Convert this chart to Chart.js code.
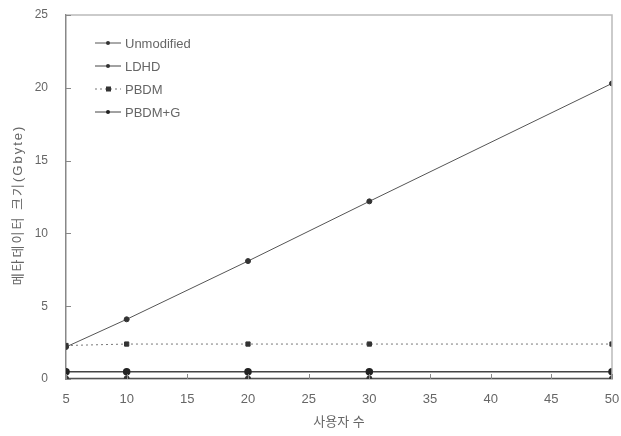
<!DOCTYPE html>
<html>
<head>
<meta charset="utf-8">
<script src="https://cdn.jsdelivr.net/npm/chart.js@4"></script>
<style>
  html, body { margin: 0; padding: 0; background: #fff; }
  #wrap { width: 621px; height: 436px; }
</style>
</head>
<body>
<div id="wrap"><canvas id="myChart" width="621" height="436"></canvas></div>
<script>
// donnees
const users = [5, 10, 20, 30, 50];
const unmodified = [2.2, 4.1, 8.1, 12.2, 20.3];
const ldhd = [0.05, 0.05, 0.05, 0.05, 0.05];
const pbdm = [2.3, 2.4, 2.4, 2.4, 2.4];
const pbdmG = [0.5, 0.5, 0.5, 0.5, 0.5];
const seriesNames = ['Unmodified', 'LDHD', 'PBDM', 'PBDM+G'];
const yTitle = '메타데이터 크기(Gbyte)';
const xTitle = '사용자 수';

const fontFam = "'Liberation Sans', 'Noto Sans CJK KR', sans-serif";
const txtColor = '#666';

function toPoints(vals) {
  return users.map((u, i) => ({ x: u, y: vals[i] }));
}

// cadre, petits traits interieurs, titre Y et legende
const boxPlugin = {
  id: 'boxPlugin',
  afterDraw(chart) {
    const { ctx, chartArea } = chart;
    const xs = chart.scales.x;
    const ys = chart.scales.y;
    ctx.save();
    ctx.strokeStyle = '#bbb';
    ctx.lineWidth = 1.5;
    ctx.beginPath();
    ctx.moveTo(chartArea.left, chartArea.top);
    ctx.lineTo(chartArea.right, chartArea.top);
    ctx.lineTo(chartArea.right, chartArea.bottom);
    ctx.stroke();

    // traits de graduation vers l'interieur
    ctx.strokeStyle = '#888';
    ctx.lineWidth = 1;
    xs.ticks.forEach(t => {
      const px = Math.round(xs.getPixelForValue(t.value)) + 0.5;
      ctx.beginPath();
      ctx.moveTo(px, chartArea.bottom);
      ctx.lineTo(px, chartArea.bottom - 5);
      ctx.stroke();
    });
    ys.ticks.forEach(t => {
      const py = Math.round(ys.getPixelForValue(t.value)) + 0.5;
      ctx.beginPath();
      ctx.moveTo(chartArea.left, py);
      ctx.lineTo(chartArea.left + 5, py);
      ctx.stroke();
    });

    // titre Y
    ctx.save();
    ctx.translate(18, (chartArea.top + chartArea.bottom) / 2 + 8);
    ctx.rotate(-Math.PI / 2);
    ctx.font = '13px ' + fontFam;
    ctx.letterSpacing = '2px';
    ctx.fillStyle = txtColor;
    ctx.textAlign = 'center';
    ctx.textBaseline = 'middle';
    ctx.fillText(yTitle, 0, 0);
    ctx.restore();

    // legende
    const x0 = chartArea.left + 29;
    let y = chartArea.top + 28;
    ctx.font = '13px ' + fontFam;
    ctx.textBaseline = 'middle';
    chart.data.datasets.forEach(ds => {
      ctx.strokeStyle = ds.borderColor;
      ctx.lineWidth = 1;
      ctx.setLineDash(ds.borderDash || []);
      ctx.beginPath();
      ctx.moveTo(x0, y);
      ctx.lineTo(x0 + 26, y);
      ctx.stroke();
      ctx.setLineDash([]);
      ctx.fillStyle = ds.pointBackgroundColor;
      if (ds.pointStyle === 'rect') {
        ctx.fillRect(x0 + 11, y - 2.5, 5, 5);
      } else {
        ctx.beginPath();
        ctx.arc(x0 + 13, y, 2, 0, Math.PI * 2);
        ctx.fill();
      }
      ctx.fillStyle = txtColor;
      ctx.fillText(ds.label, x0 + 30, y + 1);
      y += 23;
    });
    ctx.restore();
  }
};

const ctx = document.getElementById('myChart');

const myChart = new Chart(ctx, {
  type: 'line',
  data: {
    datasets: [
      {
        label: seriesNames[0],
        data: toPoints(unmodified),
        borderColor: '#555',
        pointBackgroundColor: '#333',
        pointBorderColor: '#333',
        pointStyle: 'circle',
        pointRadius: 2.5,
        borderWidth: 1
      },
      {
        label: seriesNames[1],
        data: toPoints(ldhd),
        borderColor: '#444',
        pointBackgroundColor: '#333',
        pointBorderColor: '#333',
        pointStyle: 'circle',
        pointRadius: 2.5,
        borderWidth: 1
      },
      {
        label: seriesNames[2],
        data: toPoints(pbdm),
        borderColor: '#777',
        borderDash: [2, 3],
        pointBackgroundColor: '#333',
        pointBorderColor: '#333',
        pointStyle: 'rect',
        pointRadius: 3,
        borderWidth: 1
      },
      {
        label: seriesNames[3],
        data: toPoints(pbdmG),
        borderColor: '#444',
        pointBackgroundColor: '#222',
        pointBorderColor: '#222',
        pointStyle: 'circle',
        pointRadius: 3,
        borderWidth: 1.5
      }
    ]
  },
  options: {
    responsive: false,
    animation: false,
    layout: { padding: { left: 0, right: 9, top: 15, bottom: 0 } },
    plugins: {
      legend: { display: false },
      tooltip: { enabled: false }
    },
    scales: {
      x: {
        type: 'linear',
        min: 5,
        max: 50,
        ticks: { stepSize: 5, color: txtColor, font: { family: fontFam, size: 13 }, padding: 13 },
        grid: { drawOnChartArea: false, drawTicks: false },
        border: { color: '#888', width: 1.5 },
        title: { display: true, text: xTitle, color: txtColor, font: { family: fontFam, size: 13 }, padding: { top: 0, bottom: 6 } },
        afterFit: (scale) => {
          scale.height = 57;
          scale.paddingLeft = 0;
          scale.paddingRight = 0;
        }
      },
      y: {
        min: 0,
        max: 25,
        ticks: { stepSize: 5, color: txtColor, font: { family: fontFam, size: 12 }, padding: 18 },
        grid: { drawOnChartArea: false, drawTicks: false },
        border: { color: '#888', width: 1.5 },
        title: { display: false },
        afterFit: (scale) => {
          scale.width = 66;
          scale.paddingTop = 0;
          scale.paddingBottom = 0;
        }
      }
    }
  },
  plugins: [boxPlugin]
});
console.log(myChart);
</script>
</body>
</html>
